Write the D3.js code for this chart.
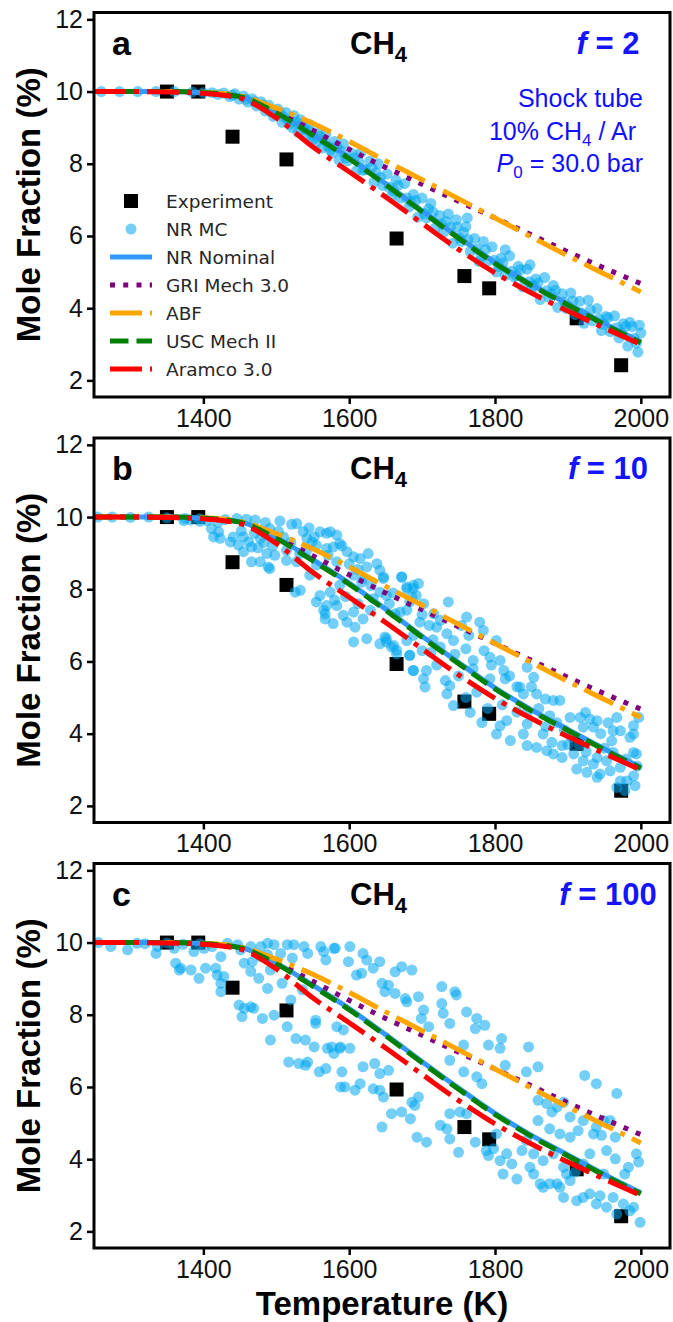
<!DOCTYPE html>
<html>
<head>
<meta charset="utf-8">
<script src="https://cdn.jsdelivr.net/npm/d3@7"></script>
<style>
  body { margin: 0; background: #fff; }
  svg { display: block; }
</style>
</head>
<body>
<svg id="chart" width="673" height="1322"></svg>
<script>
// ---- data ----------------------------------------------------------------
const panelLetters = ["a", "b", "c"];
const fLabels = ["2", "10", "100"];
const xTicks = [1400, 1600, 1800, 2000];
const yTicks = [2, 4, 6, 8, 10, 12];

// Model temperature grid (K)
const temps = [1250, 1300, 1350, 1400, 1450, 1500, 1550, 1600, 1650, 1700, 1750, 1800, 1850, 1900, 1950, 2000];
// CH4 mole fraction (%) predicted by each mechanism
const nrNominal = [10.0, 10.0, 10.0, 9.97, 9.87, 9.43, 8.82, 8.17, 7.45, 6.70, 5.97, 5.27, 4.66, 4.12, 3.58, 3.07];
const griMech  = [10.0, 10.0, 10.0, 9.96, 9.84, 9.44, 8.93, 8.40, 7.90, 7.43, 6.96, 6.50, 6.03, 5.56, 5.11, 4.68];
const abf      = [10.0, 10.0, 10.0, 9.98, 9.88, 9.54, 9.12, 8.62, 8.08, 7.56, 7.03, 6.50, 5.97, 5.45, 4.95, 4.45];
const uscMech  = [10.0, 10.0, 10.0, 9.97, 9.86, 9.41, 8.79, 8.14, 7.42, 6.67, 5.94, 5.24, 4.63, 4.09, 3.55, 3.04];
const aramco   = [10.0, 10.0, 9.99, 9.95, 9.82, 9.27, 8.47, 7.78, 7.08, 6.35, 5.63, 4.98, 4.42, 3.92, 3.45, 3.00];

// Shock tube measurements [T (K), mole fraction (%)]
const experiment = [[1350, 10.0], [1393, 10.0], [1440, 8.75], [1514, 8.12], [1665, 5.93],
                    [1758, 4.89], [1792, 4.55], [1912, 3.72], [1973, 2.42]];

// Monte Carlo samples, f = 2
const mcF2 = [
  [1260,10.0],[1285,10.0],[1310,10.0],[1335,10.0],[1360,10.0],[1385,9.99],[1400,9.97],
  [1412,9.97],[1420,9.92],[1428,9.96],[1436,9.86],[1443,9.94],[1449,9.79],[1455,9.88],[1461,9.71],
  [1467,9.80],[1473,9.60],[1479,9.72],[1485,9.46],[1490,9.62],[1496,9.31],[1502,9.52],[1508,9.15],
  [1513,9.42],[1519,9.10],[1524,9.34],[1530,8.87],[1535,9.10],[1541,8.78],[1546,9.09],[1552,8.69],
  [1557,8.87],[1563,8.44],[1568,8.82],[1574,8.37],[1580,8.62],[1586,8.10],[1592,8.55],[1598,8.08],
  [1604,8.28],[1610,7.81],[1616,8.31],[1622,7.84],[1628,8.07],[1634,7.49],[1640,8.00],[1646,7.40],
  [1652,7.72],[1658,7.10],[1664,7.55],[1670,7.05],[1676,7.45],[1682,6.80],[1688,7.15],[1694,6.52],
  [1700,7.05],[1706,6.50],[1712,6.90],[1718,6.22],[1724,6.57],[1730,6.11],[1736,6.61],[1742,5.80],
  [1748,6.25],[1754,5.85],[1760,6.26],[1766,5.57],[1772,5.93],[1778,5.29],[1784,5.85],[1790,5.31],
  [1796,5.70],[1802,5.00],[1808,5.38],[1814,4.91],[1820,5.45],[1826,4.87],[1832,5.16],[1838,4.59],
  [1844,5.08],[1850,4.52],[1856,4.81],[1862,4.24],[1868,4.85],[1874,4.30],[1880,4.63],[1886,4.02],
  [1892,4.40],[1898,3.99],[1904,4.42],[1910,3.82],[1916,4.19],[1922,3.58],[1928,4.22],[1934,3.65],
  [1940,3.99],[1946,3.38],[1952,3.77],[1958,3.35],[1964,3.79],[1970,3.18],[1976,3.57],[1982,2.95],
  [1988,3.49],[1994,3.03],[2000,3.31],
  [1440,9.90],[1458,9.79],[1470,9.72],[1482,9.63],[1493,9.44],[1505,9.42],[1516,9.19],[1527,9.15],
  [1538,8.97],[1549,8.78],[1560,8.76],[1571,8.48],[1583,8.49],[1595,8.16],[1607,8.17],[1619,7.82],
  [1631,7.90],[1643,7.62],[1655,7.35],[1667,7.40],[1679,7.05],[1691,6.98],[1703,6.62],[1715,6.66],
  [1727,6.33],[1739,6.24],[1751,5.95],[1763,5.90],[1775,5.64],[1787,5.62],[1799,5.33],[1811,5.25],
  [1823,5.02],[1835,5.07],[1847,4.73],[1859,4.70],[1871,4.48],[1883,4.50],[1895,4.17],[1907,4.20],
  [1919,3.87],[1931,3.95],[1943,3.71],[1955,3.74],[1967,3.46],[1979,3.49],[1991,3.16],[1998,3.53],
  [1996,2.78],[1985,3.61],[1747,6.45],[1814,5.62],[1848,5.20],[1762,6.50],
  [1510,9.30],[1522,9.00],[1533,9.22],[1544,8.92],[1555,8.58],[1566,8.65],[1577,8.30],[1589,8.35],
  [1613,8.05],[1637,7.75],[1661,7.25],[1685,6.95],[1709,6.75],[1733,6.40],[1757,6.10],[1781,5.45],
  [1805,5.15],[1829,4.90],[1853,4.62],[1877,4.40],[1901,4.05],[1925,3.78],[1949,3.55],[1973,3.32]
];

// Monte Carlo samples, f = 10
const mcF10 = [
  [1255,10.0],[1275,10.0],[1300,9.99],[1325,10.0],[1350,9.98],[1375,9.96],[1395,9.95],[1405,9.90],
  [1420,9.85],[1430,9.93],[1373,9.90],[1382,9.92],[1395,9.88],
  [1446,9.96],[1459,9.94],[1471,9.92],[1485,9.85],[1505,9.89],[1521,9.80],[1528,9.82],[1491,9.68],
  [1411,9.68],[1421,9.59],[1414,9.45],[1423,9.41],[1441,9.45],[1455,9.45],[1437,9.31],[1448,9.22],
  [1462,9.31],[1466,9.17],[1455,9.04],[1475,9.15],[1478,9.41],[1487,8.99],[1498,8.94],[1466,8.76],
  [1478,8.76],[1489,8.62],[1491,8.57],[1514,9.08],[1514,8.80],[1528,8.76],[1532,8.99],[1542,9.41],
  [1549,9.31],[1542,9.08],[1555,9.22],[1560,9.59],[1569,9.55],[1574,9.59],[1583,9.50],[1587,9.27],
  [1578,9.17],[1569,9.13],[1571,8.94],[1597,9.04],[1606,8.90],[1615,8.85],[1626,8.99],[1638,8.71],
  [1642,8.53],[1647,8.34],[1624,8.62],[1617,8.20],[1606,8.39],[1587,8.11],[1574,7.92],[1560,7.83],
  [1555,7.65],[1569,7.55],[1565,7.42],[1567,7.18],[1583,7.55],[1592,7.28],[1597,7.09],[1606,7.37],
  [1608,6.95],[1619,7.18],[1629,7.42],[1633,7.74],[1642,7.92],[1651,7.83],[1672,8.34],[1679,8.06],
  [1688,8.02],[1683,7.65],[1692,7.83],[1606,6.54],[1624,6.63],[1642,6.49],[1651,6.63],[1661,6.44],
  [1679,6.58],[1665,6.21],[1688,6.72],[1683,6.17],[1688,5.75],[1555,8.67],[1583,8.76],[1546,8.39],
  [1533,7.97],[1526,7.92],[1578,7.05],[1567,7.32],
  [1647,8.30],[1672,8.34],[1679,8.02],[1688,8.11],[1695,8.16],[1686,7.79],[1702,7.60],[1679,7.42],
  [1670,7.37],[1663,7.32],[1697,7.09],[1736,7.65],[1716,7.32],[1725,7.14],[1720,6.95],[1734,6.77],
  [1743,6.58],[1761,7.23],[1754,7.00],[1764,6.72],[1779,7.09],[1784,6.86],[1802,6.58],[1649,6.68],
  [1651,6.54],[1658,6.40],[1665,6.31],[1683,6.17],[1688,5.75],[1706,5.75],[1702,5.52],[1704,5.29],
  [1732,5.47],[1738,5.33],[1734,5.10],[1743,4.78],[1770,6.03],[1770,5.80],[1793,6.12],[1807,6.03],
  [1812,5.75],[1814,5.52],[1793,5.52],[1775,5.15],[1766,4.59],[1782,4.31],[1802,3.99],[1807,4.22],
  [1821,3.81],[1816,4.36],[1834,5.29],[1839,5.10],[1853,5.56],[1844,5.84],[1857,5.10],[1869,4.96],
  [1880,4.92],[1889,4.92],[1844,4.59],[1844,4.27],[1839,3.99],[1866,3.99],[1844,3.67],[1857,3.62],
  [1871,3.53],[1880,3.44],[1892,3.34],[1892,3.67],[1878,3.76],[1903,4.45],[1917,4.45],[1924,4.59],
  [1930,4.41],[1940,4.36],[1935,4.18],[1921,4.18],[1967,4.45],[1962,4.08],[1972,4.08],[1990,4.22],
  [1997,4.45],[1990,3.99],[1994,3.44],[1990,3.48],[1908,3.44],[1912,3.02],[1921,3.25],[1926,2.93],
  [1935,3.16],[1940,3.34],[1944,2.88],[1953,3.25],[1962,3.48],[1972,3.07],[1958,2.97],[1972,2.69],
  [1967,2.51],[1981,2.69],[1990,2.83],[1992,2.56],[1978,2.42],[1940,2.79],
  [1452,9.62],[1470,9.55],[1483,9.30],[1495,9.20],[1503,9.60],[1510,9.45],[1520,9.30],[1537,9.60],
  [1545,9.70],[1552,9.45],[1590,9.20],[1600,8.70],[1612,8.55],[1620,8.30],[1630,8.10],[1595,7.80],
  [1580,7.70],[1612,7.60],[1655,7.60],[1660,7.90],[1700,7.30],[1710,7.00],[1715,6.60],[1725,6.40],
  [1700,6.30],[1745,6.20],[1760,6.35],[1785,6.30],[1795,5.90],[1820,5.60],[1830,5.30],[1850,5.30],
  [1860,4.70],[1875,4.50],[1885,4.30],[1895,4.10],[1905,3.90],[1915,3.70],[1925,3.50],[1950,3.60],
  [1960,3.80],[1980,3.30],[1995,3.10],[1985,3.90],[1955,4.30],[1945,4.00],[1900,3.70],[1870,4.20],
  [1830,4.60],[1810,4.80],[1790,4.70],[1760,5.00],[1750,5.60],[1720,5.90],[1712,6.25]
];

// Monte Carlo samples, f = 100
const mcF100 = [
  [1256,10.0],[1273,9.89],[1296,9.80],[1309,9.98],[1335,9.70],[1337,9.89],[1360,9.84],[1387,9.75],
  [1401,9.84],[1412,9.89],[1424,9.61],[1433,9.98],[1447,9.94],[1451,9.80],[1465,9.89],[1479,9.89],
  [1488,9.98],[1497,9.94],[1506,9.70],[1515,9.94],[1524,9.94],[1538,9.89],[1543,9.70],[1561,9.89],
  [1565,9.75],[1579,9.84],[1568,9.52],[1362,9.43],[1369,9.29],[1367,9.24],[1383,9.24],[1394,9.01],
  [1403,9.29],[1417,9.29],[1419,9.10],[1428,9.06],[1424,8.87],[1424,8.64],[1456,9.43],[1465,9.20],
  [1467,9.47],[1476,9.01],[1479,9.61],[1488,9.66],[1492,9.24],[1488,8.73],[1508,8.87],[1522,9.57],
  [1536,8.69],[1449,8.27],[1456,8.18],[1465,8.22],[1469,8.18],[1453,7.95],[1481,7.90],[1497,7.99],
  [1520,8.41],[1515,7.67],[1492,7.30],[1527,7.34],[1540,7.30],[1554,7.85],[1554,7.76],[1552,7.11],
  [1570,7.07],[1579,6.93],[1588,7.11],[1588,6.00],[1517,6.69],[1531,6.65],[1540,6.60],[1543,6.69],
  [1559,6.42],[1568,6.51],[1320,9.97],[1350,9.99],[1372,9.95],[1395,9.97],
  [1581,9.84],[1601,9.89],[1619,9.70],[1624,9.52],[1633,9.29],[1642,9.47],[1599,9.47],[1610,9.10],
  [1617,9.15],[1663,9.19],[1672,9.33],[1686,9.24],[1645,8.87],[1654,8.82],[1649,8.64],[1663,8.59],
  [1677,8.45],[1679,8.36],[1695,8.50],[1702,8.13],[1699,7.90],[1709,7.67],[1727,8.78],[1745,8.64],
  [1747,8.55],[1727,8.31],[1729,8.04],[1738,7.76],[1761,8.08],[1775,7.90],[1773,7.62],[1786,7.71],
  [1757,7.16],[1738,6.74],[1757,6.42],[1775,6.28],[1782,6.09],[1791,7.16],[1809,7.34],[1807,7.07],
  [1814,6.60],[1843,6.42],[1859,6.56],[1846,7.11],[1859,5.63],[1871,5.54],[1885,5.44],[1894,5.58],
  [1878,5.31],[1903,5.17],[1921,5.07],[1939,4.89],[1958,5.07],[1923,6.32],[1939,6.09],[1967,5.82],
  [1965,4.01],[1978,3.59],[1997,3.92],[1583,7.67],[1592,7.58],[1576,7.11],[1587,7.07],[1601,7.07],
  [1590,6.42],[1594,6.00],[1608,5.91],[1615,6.09],[1619,6.56],[1635,6.65],[1642,6.37],[1654,6.46],
  [1633,5.95],[1642,5.91],[1647,5.72],[1658,5.26],[1672,5.31],[1686,5.58],[1695,5.72],[1690,5.49],
  [1684,5.12],[1645,4.89],[1693,4.61],[1706,4.47],[1725,4.94],[1734,4.84],[1738,5.26],[1752,5.31],
  [1738,4.56],[1750,4.19],[1761,5.26],[1773,4.47],[1788,4.24],[1791,4.10],[1798,4.29],[1802,4.70],
  [1807,3.96],[1816,4.15],[1811,3.59],[1823,3.87],[1830,3.45],[1837,4.24],[1843,4.52],[1848,3.78],
  [1853,3.59],[1862,3.32],[1866,3.22],[1875,3.32],[1885,3.32],[1889,3.22],[1894,2.94],[1898,3.59],
  [1903,3.41],[1910,3.64],[1912,2.85],[1921,2.94],[1930,3.04],[1939,2.76],[1944,2.99],[1953,2.67],
  [1962,2.94],[1967,2.48],[1976,2.76],[1985,2.57],[1990,2.67],[1999,2.25],[1859,5.07],[1875,4.84],
  [1889,4.70],[1903,4.61],[1914,4.79],[1935,4.70],[1946,4.66],[1949,5.07],[1953,4.24],[1965,4.61],
  [1994,4.15],[1983,3.78],[1949,3.59],[1930,4.15],[1921,3.87],[1894,3.78],[1880,4.15],[1866,3.96],
  [1853,4.15]
];

const mcSets = [mcF2, mcF10, mcF100];

// Line series, drawn in this order (later ones on top)
const seriesNames = ["NR Nominal", "GRI Mech 3.0", "ABF", "USC Mech II", "Aramco 3.0"];
const seriesValues = [nrNominal, griMech, abf, uscMech, aramco];
const seriesColors = ["#3399ff", "#800080", "#ffa500", "#008000", "#ff0000"];
const seriesDash = ["none", "5,8.25", "32,8,5,8", "18.5,8", "32,8,5,8"];

// ---- layout --------------------------------------------------------------
const svg = d3.select("#chart");
const plotLeft = 94, plotRight = 670, plotHeight = 384.5;
const panelTops = [12.5, 438, 863.5];

const x = d3.scaleLinear().domain([1250, 2040]).range([plotLeft, plotRight]);
const y = d3.scaleLinear().domain([1.54, 12.19]).range([plotHeight, 0]);
const lineWidth = 5;
const mcFill = "#00a8f0";
const sansBold = "Liberation Sans, Arial, sans-serif";

svg.append("defs").append("clipPath").attr("id", "plotclip")
  .append("rect").attr("x", plotLeft).attr("y", 0).attr("width", plotRight - plotLeft).attr("height", plotHeight);

panelLetters.forEach((letter, i) => {
  const top = panelTops[i];
  const g = svg.append("g").attr("transform", `translate(0,${top})`);
  const plot = g.append("g").attr("clip-path", "url(#plotclip)");

  // experiment squares
  plot.selectAll("rect.exp").data(experiment).join("rect")
    .attr("class", "exp")
    .attr("x", d => x(d[0]) - 7).attr("y", d => y(d[1]) - 7)
    .attr("width", 14).attr("height", 14).attr("fill", "#000");

  // Monte Carlo samples
  plot.selectAll("circle.mc").data(mcSets[i]).join("circle")
    .attr("class", "mc")
    .attr("cx", d => x(d[0])).attr("cy", d => y(d[1])).attr("r", 5.5)
    .attr("fill", mcFill).attr("fill-opacity", 0.55);

  // mechanism curves
  const line = d3.line().x((d, k) => x(temps[k])).y(d => y(d)).curve(d3.curveMonotoneX);
  seriesValues.forEach((vals, s) => {
    plot.append("path").datum(vals)
      .attr("d", line)
      .attr("fill", "none")
      .attr("stroke", seriesColors[s])
      .attr("stroke-width", lineWidth)
      .attr("stroke-dasharray", seriesDash[s]);
  });

  // axes
  const yAxis = d3.axisLeft(y).tickValues(yTicks).tickSize(7).tickPadding(4).tickFormat(d3.format("d"));
  const xAxis = d3.axisBottom(x).tickValues(xTicks).tickSize(7).tickPadding(5).tickFormat(d3.format("d"));
  const ya = g.append("g").attr("transform", `translate(${plotLeft},0)`).call(yAxis);
  const xa = g.append("g").attr("transform", `translate(0,${plotHeight})`).call(xAxis);
  [ya, xa].forEach(a => {
    a.select(".domain").remove();
    a.selectAll(".tick line").attr("stroke", "#000").attr("stroke-width", 2.5);
    a.selectAll(".tick text").attr("fill", "#111").attr("font-family", sansBold).attr("font-size", 25);
  });

  // frame
  g.append("rect").attr("x", plotLeft).attr("y", 0)
    .attr("width", plotRight - plotLeft).attr("height", plotHeight)
    .attr("fill", "none").attr("stroke", "#000").attr("stroke-width", 3);

  // panel letter
  g.append("text").attr("x", 112).attr("y", 42)
    .attr("font-family", sansBold).attr("font-weight", "bold")
    .attr("font-size", 34).attr("fill", "#000").text(letter);

  // species label
  const sp = g.append("text").attr("x", 350).attr("y", 41)
    .attr("font-family", sansBold).attr("font-weight", "bold")
    .attr("font-size", 31).attr("fill", "#000");
  sp.append("tspan").text("CH");
  sp.append("tspan").attr("font-size", 22).attr("dy", 8).text("4");

  // uncertainty factor
  const ft = g.append("text").attr("x", 608).attr("y", 41).attr("text-anchor", "middle")
    .attr("font-family", sansBold).attr("font-weight", "bold")
    .attr("font-size", 31).attr("fill", "#1414ff");
  ft.append("tspan").attr("font-style", "italic").text("f");
  ft.append("tspan").text(" = " + fLabels[i]);

  // y label
  g.append("text")
    .attr("transform", `translate(40,${plotHeight / 2}) rotate(-90)`)
    .attr("text-anchor", "middle")
    .attr("font-family", sansBold).attr("font-weight", "bold")
    .attr("font-size", 33).attr("fill", "#000").text("Mole Fraction (%)");

  if (i === 0) {
    // conditions
    const ann = g.append("g").attr("font-family", sansBold)
      .attr("font-size", 25).attr("fill", "#1010ff").attr("text-anchor", "end");
    ann.append("text").attr("x", 643).attr("y", 94).text("Shock tube");
    const l2 = ann.append("text").attr("x", 636).attr("y", 127);
    l2.append("tspan").text("10% CH");
    l2.append("tspan").attr("font-size", 17).attr("dy", 6).text("4");
    l2.append("tspan").attr("dy", -6).text(" / Ar");
    const l3 = ann.append("text").attr("x", 643).attr("y", 159);
    l3.append("tspan").attr("font-style", "italic").text("P");
    l3.append("tspan").attr("font-size", 17).attr("dy", 6).text("0");
    l3.append("tspan").attr("dy", -6).text(" = 30.0 bar");

    // legend
    const leg = g.append("g").attr("font-family", "DejaVu Sans, sans-serif")
      .attr("font-size", 18.5).attr("fill", "#262626");
    const rows = ["Experiment", "NR MC"].concat(seriesNames);
    const rowCenter = r => 188.5 + r * 28;
    rows.forEach((name, r) => {
      leg.append("text").attr("x", 166).attr("y", rowCenter(r) + 7).text(name);
    });
    leg.append("rect").attr("x", 124).attr("y", rowCenter(0) - 7).attr("width", 14).attr("height", 14).attr("fill", "#000");
    leg.append("circle").attr("cx", 131).attr("cy", rowCenter(1)).attr("r", 5.5)
      .attr("fill", mcFill).attr("fill-opacity", 0.55);
    seriesNames.forEach((name, s) => {
      const yy = rowCenter(s + 2);
      leg.append("line").attr("x1", 110).attr("x2", 152).attr("y1", yy).attr("y2", yy)
        .attr("stroke", seriesColors[s]).attr("stroke-width", lineWidth)
        .attr("stroke-dasharray", seriesDash[s]);
    });
  }
});

// x label
svg.append("text").attr("x", 382).attr("y", 1315).attr("text-anchor", "middle")
  .attr("font-family", sansBold).attr("font-weight", "bold")
  .attr("font-size", 33).attr("fill", "#000").text("Temperature (K)");
</script>
</body>
</html>
